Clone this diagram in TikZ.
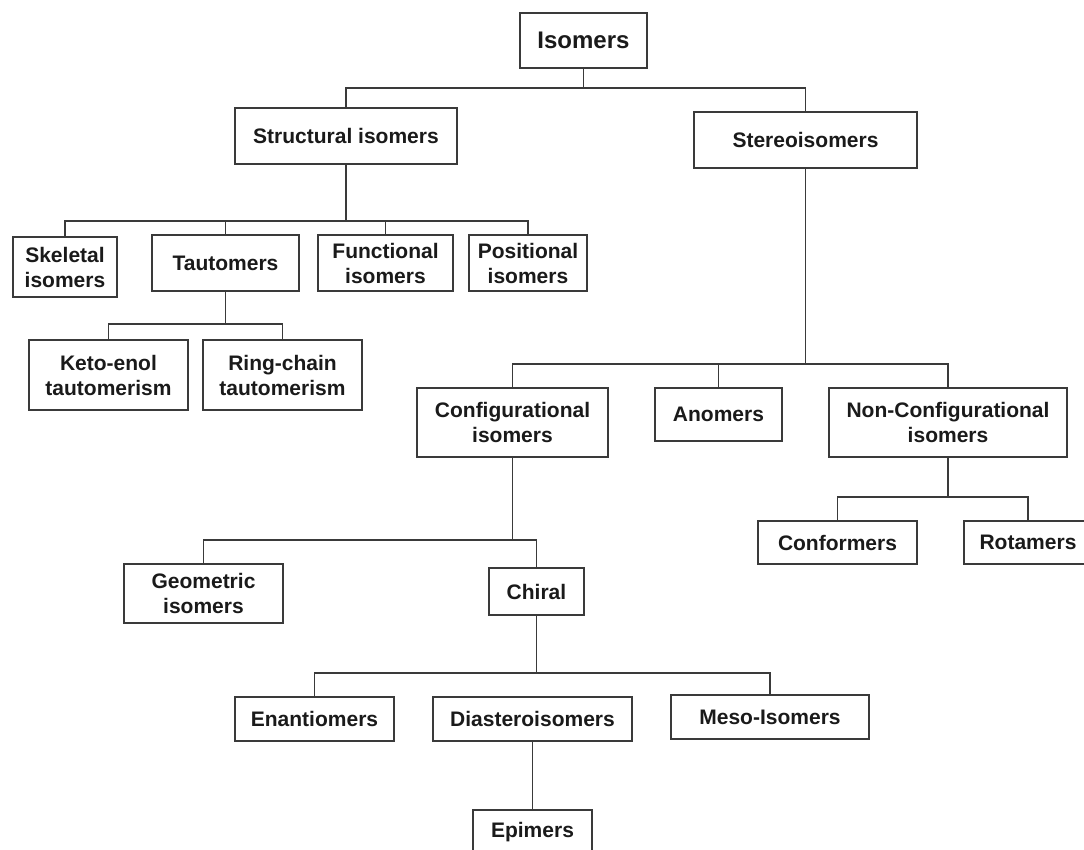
\documentclass[tikz,border=0pt]{standalone}
\usepackage{fontspec}
\setmainfont{Liberation Sans}
\definecolor{linec}{HTML}{3A3A3A}
\definecolor{textc}{HTML}{1A1A1A}
\begin{document}
\begin{tikzpicture}[x=1pt,y=1pt,
  box/.style={draw=linec,line width=1.4pt,rectangle,inner sep=0pt,align=center,
    text=textc,font=\fontsize{21}{25}\selectfont\bfseries},
  conn/.style={draw=linec,line width=1.4pt}]
\useasboundingbox (0,0) rectangle (1084,-850);
\fill[white] (0,0) rectangle (1084,-850);
\clip (0,0) rectangle (1084,-850);
% nodes
\node[box,minimum width=127,minimum height=55,font=\fontsize{24}{28}\selectfont\bfseries] (iso) at (583.5,-40.5) {Isomers};
\node[box,minimum width=222,minimum height=56] (struct) at (346,-136) {Structural isomers};
\node[box,minimum width=223,minimum height=56] (stereo) at (805.5,-140) {Stereoisomers};
\node[box,minimum width=104,minimum height=60] (skel) at (65,-267) {Skeletal\\isomers};
\node[box,minimum width=147,minimum height=56] (taut) at (225.5,-263) {Tautomers};
\node[box,minimum width=135,minimum height=56] (func) at (385.5,-263) {Functional\\isomers};
\node[box,minimum width=118,minimum height=56] (posi) at (528,-263) {Positional\\isomers};
\node[box,minimum width=159,minimum height=70] (keto) at (108.5,-375) {Keto-enol\\tautomerism};
\node[box,minimum width=159,minimum height=70] (ring) at (282.5,-375) {Ring-chain\\tautomerism};
\node[box,minimum width=191,minimum height=69] (config) at (512.5,-422.5) {Configurational\\isomers};
\node[box,minimum width=127,minimum height=53] (anom) at (718.5,-414.5) {Anomers};
\node[box,minimum width=238,minimum height=69] (nonconf) at (948,-422.5) {Non-Configurational\\isomers};
\node[box,minimum width=159,minimum height=43] (conf) at (837.5,-542.5) {Conformers};
\node[box,minimum width=128,minimum height=43] (rot) at (1028,-542.5) {Rotamers};
\node[box,minimum width=159,minimum height=59] (geom) at (203.5,-593.5) {Geometric\\isomers};
\node[box,minimum width=95,minimum height=47] (chiral) at (536.5,-591.5) {Chiral};
\node[box,minimum width=159,minimum height=44] (enan) at (314.5,-719) {Enantiomers};
\node[box,minimum width=199,minimum height=44] (dias) at (532.5,-719) {Diasteroisomers};
\node[box,minimum width=198,minimum height=44] (meso) at (770,-717) {Meso-Isomers};
\node[box,minimum width=119,minimum height=44] (epim) at (532.5,-832) {Epimers};
% bus levels
\coordinate (bA) at (0,-88);
\coordinate (bB) at (0,-221);
\coordinate (bC) at (0,-324);
\coordinate (bD) at (0,-364);
\coordinate (bE) at (0,-497);
\coordinate (bF) at (0,-540);
\coordinate (bG) at (0,-673);
% connectors
\draw[conn] (iso.south) -- (iso.south |- bA);
\draw[conn] (struct.north) |- (bA -| stereo.north) -- (stereo.north);
\draw[conn] (struct.south) -- (struct.south |- bB);
\draw[conn] (skel.north) |- (bB -| posi.north) -- (posi.north);
\draw[conn] (taut.north) -- (taut.north |- bB);
\draw[conn] (func.north) -- (func.north |- bB);
\draw[conn] (taut.south) -- (taut.south |- bC);
\draw[conn] (keto.north) |- (bC -| ring.north) -- (ring.north);
\draw[conn] (stereo.south) -- (stereo.south |- bD);
\draw[conn] (config.north) |- (bD -| nonconf.north) -- (nonconf.north);
\draw[conn] (anom.north) -- (anom.north |- bD);
\draw[conn] (nonconf.south) -- (nonconf.south |- bE);
\draw[conn] (conf.north) |- (bE -| rot.north) -- (rot.north);
\draw[conn] (config.south) -- (config.south |- bF);
\draw[conn] (geom.north) |- (bF -| chiral.north) -- (chiral.north);
\draw[conn] (chiral.south) -- (chiral.south |- bG);
\draw[conn] (enan.north) |- (bG -| meso.north) -- (meso.north);
\draw[conn] (dias.south) -- (epim.north);
\end{tikzpicture}
\end{document}
